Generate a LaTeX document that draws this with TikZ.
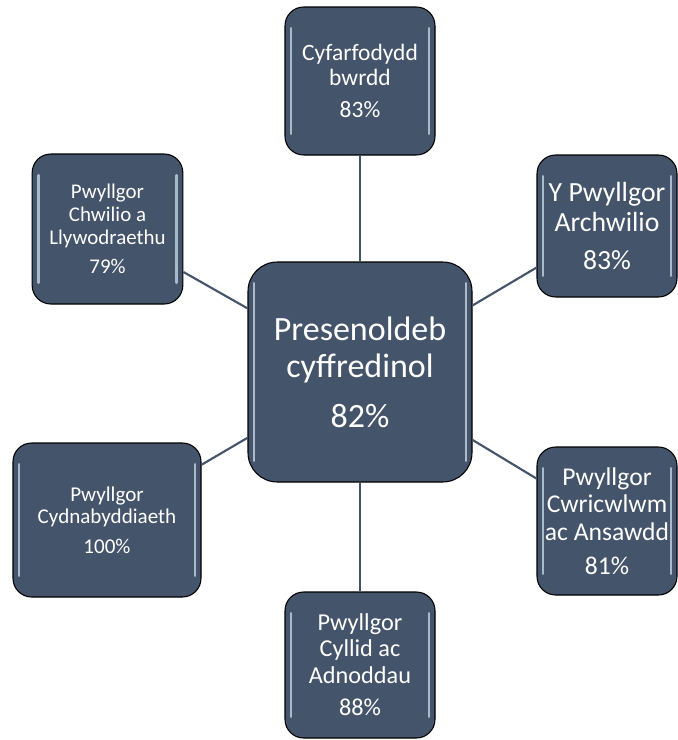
\documentclass[tikz,border=0pt]{standalone}
\usepackage{fontspec}
\setmainfont{Carlito}
\usetikzlibrary{positioning}
\definecolor{slate}{RGB}{68,84,106}
\definecolor{gleam}{RGB}{206,219,234}
\tikzset{
  unit/.style={draw=black, line width=0.8pt, fill=slate, text=white,
    rounded corners=14pt, align=center, inner sep=0pt,
    path picture={
      \draw[shine] ([xshift=4.5pt,yshift=-16pt]path picture bounding box.north west)
        -- ([xshift=4.5pt,yshift=16pt]path picture bounding box.south west);
      \draw[shine] ([xshift=-4.5pt,yshift=-16pt]path picture bounding box.north east)
        -- ([xshift=-4.5pt,yshift=16pt]path picture bounding box.south east);
    }},
  hub/.style={unit, rounded corners=22pt},
  shine/.style={draw=gleam, line width=2.2pt, line cap=round, opacity=0.75},
  link/.style={draw=slate, line width=1.6pt},
}
\newcommand{\fsz}[1]{\fontsize{#1}{1.08*#1}\selectfont}
\begin{document}
\begin{tikzpicture}[x=0.75pt, y=-0.75pt]
\useasboundingbox (0,0) rectangle (678,740);
% centre
\node[hub, minimum width=168pt, minimum height=165pt, font=\fontsize{25.5}{28}\selectfont]
  (core) at (360,372) {Presenoldeb\\cyffredinol\\[9pt]82\%};
% committees
\node[unit, minimum width=112.5pt, minimum height=111pt, font=\fontsize{17.6}{19}\selectfont]
  (board) at (360,81) {Cyfarfodydd\\bwrdd\\[5pt]83\%};
\node[unit, minimum width=105pt, minimum height=106.5pt, font=\fontsize{20.8}{22.5}\selectfont]
  (audit) at (607,226) {Y Pwyllgor\\Archwilio\\[6pt]83\%};
\node[unit, minimum width=105pt, minimum height=111pt, font=\fontsize{19.2}{20.7}\selectfont]
  (quality) at (607,521) {Pwyllgor\\Cwricwlwm\\ac Ansawdd\\[5pt]81\%};
\node[unit, minimum width=112.5pt, minimum height=109.5pt, font=\fontsize{18.2}{19.6}\selectfont]
  (finance) at (360,665) {Pwyllgor\\Cyllid ac\\Adnoddau\\[5pt]88\%};
\node[unit, minimum width=141pt, minimum height=115.5pt, font=\fontsize{15.8}{17}\selectfont]
  (remun) at (107,520) {Pwyllgor\\Cydnabyddiaeth\\[5pt]100\%};
\node[unit, minimum width=113pt, minimum height=112.5pt, font=\fontsize{15.7}{17}\selectfont]
  (govern) at (107.5,229) {Pwyllgor\\Chwilio a\\Llywodraethu\\[5pt]79\%};
% links
\foreach \n in {board, audit, quality, finance, remun, govern}
  \draw[link] (core) -- (\n);
\end{tikzpicture}
\end{document}
